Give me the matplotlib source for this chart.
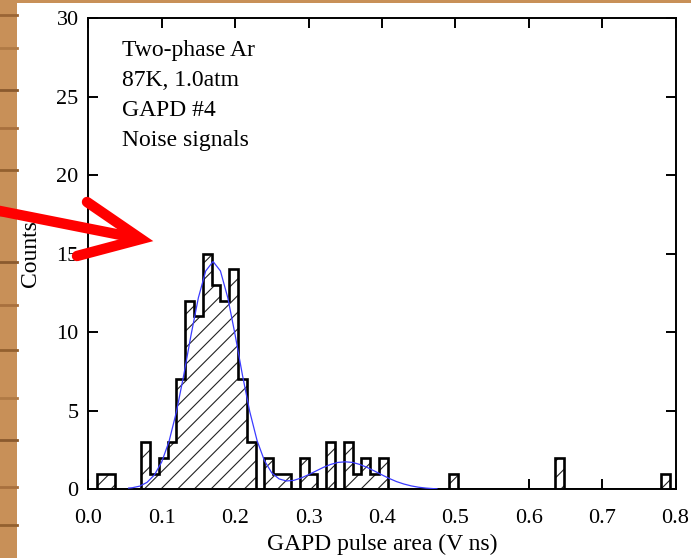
import numpy as np
import matplotlib
matplotlib.use('Agg')
import matplotlib.pyplot as plt
from matplotlib.lines import Line2D
from matplotlib.patches import Rectangle

plt.rcParams['font.family'] = ['Liberation Serif', 'DejaVu Serif']
plt.rcParams['hatch.linewidth'] = 0.8

# histogram of noise pulse areas, bin width 0.012 V ns starting at 0
bin_width = 0.012
counts = [0, 1, 1, 0, 0, 0, 3, 1, 2, 3, 7, 12, 11, 15, 13, 12, 14, 7, 3, 0,
          2, 1, 1, 0, 2, 1, 0, 3, 0, 3, 1, 2, 1, 2, 0, 0, 0, 0, 0, 0,
          0, 1, 0, 0, 0, 0, 0, 0, 0, 0, 0, 0, 0, 2, 0, 0, 0, 0, 0, 0,
          0, 0, 0, 0, 0, 1]

# fitted curve
fit_x = [0.055, 0.06, 0.07, 0.08, 0.09, 0.10, 0.11, 0.12, 0.13, 0.14, 0.15,
         0.16, 0.17, 0.18, 0.19, 0.20, 0.21, 0.22, 0.23, 0.24, 0.25, 0.26,
         0.27, 0.28, 0.29, 0.30, 0.31, 0.32, 0.33, 0.34, 0.35, 0.36, 0.37,
         0.38, 0.39, 0.40, 0.41, 0.42, 0.43, 0.44, 0.45, 0.46, 0.47, 0.475]
fit_y = [0.08, 0.1, 0.2, 0.44, 0.91, 1.74, 3.05, 4.92, 7.26, 9.83, 12.2,
         13.9, 14.5, 13.9, 12.2, 9.84, 7.27, 4.94, 3.09, 1.82, 1.04, 0.66,
         0.53, 0.57, 0.72, 0.93, 1.16, 1.39, 1.58, 1.71, 1.75, 1.71, 1.58,
         1.39, 1.16, 0.92, 0.69, 0.49, 0.335, 0.216, 0.132, 0.077, 0.043, 0.03]

x_ticks = [0.0, 0.1, 0.2, 0.3, 0.4, 0.5, 0.6, 0.7, 0.8]
y_ticks = [0, 5, 10, 15, 20, 25, 30]
info_lines = ['Two-phase Ar', '87K, 1.0atm', 'GAPD #4', 'Noise signals']

W, H = 691, 558
fig = plt.figure(figsize=(W / 100, H / 100), dpi=100, facecolor='white')

# wood strip on the left and top edges
fig.add_artist(Rectangle((0, 0), 17 / W, 1, transform=fig.transFigure,
                         facecolor='#c89058', edgecolor='none', zorder=0))
fig.add_artist(Rectangle((0, 1 - 3 / H), 1, 3 / H, transform=fig.transFigure,
                         facecolor='#c89058', edgecolor='none', zorder=0))
wood_streaks = [(15, '#9a6535'), (48, '#b07a45'), (90, '#8a5a2e'),
                (128, '#a8703e'), (170, '#93602f'), (215, '#b07a45'),
                (262, '#8a5a2e'), (305, '#a8703e'), (350, '#93602f'),
                (398, '#b07a45'), (440, '#8a5a2e'), (487, '#a8703e'),
                (525, '#93602f')]
for yy, c in wood_streaks:
    fig.add_artist(Line2D([0, 17 / W], [1 - yy / H, 1 - yy / H],
                          transform=fig.transFigure, color=c,
                          lw=2.0, zorder=0))

ax = fig.add_axes([88.3 / W, 1 - 489.3 / H, 587.2 / W, 471.3 / H])

edges = np.arange(len(counts) + 1) * bin_width
ax.stairs(counts, edges, fill=True, hatch='//', facecolor='white',
          edgecolor='#222222', linewidth=0, zorder=2)
ax.stairs(counts, edges, color='black', linewidth=1.9, baseline=0, zorder=3)
ax.plot(fit_x, fit_y, color='#3b3bff', linewidth=0.9, zorder=4)

ax.set_xlim(0, 0.8)
ax.set_ylim(0, 30)
ax.set_xticks(x_ticks)
ax.set_xticklabels(['%.1f' % v for v in x_ticks])
ax.set_yticks(y_ticks)
ax.tick_params(direction='in', length=7.5, width=1.4, labelsize=16,
               top=True, right=True)
ax.tick_params(axis='x', pad=14)
ax.tick_params(axis='y', pad=7)
for s in ax.spines.values():
    s.set_linewidth(1.4)

ax.set_xlabel('GAPD pulse area (V ns)', fontsize=17)
ax.set_ylabel('Counts', fontsize=17)
ax.xaxis.set_label_coords(0.5, -0.094)
ax.yaxis.set_label_coords(-0.081, 0.5)

for i, t in enumerate(info_lines):
    ax.text(0.057, 0.92 - i * 0.0637, t, transform=ax.transAxes,
            fontsize=17, va='baseline', ha='left')

# red arrow pointing at the histogram
def fx(px):
    return px / W

def fy(py):
    return 1 - py / H

fig.add_artist(Line2D([fx(-5), fx(136)], [fy(210), fy(238)],
                      transform=fig.transFigure, color='red', lw=7.5,
                      solid_capstyle='butt', zorder=10))
fig.add_artist(Line2D([fx(87), fx(141), fx(77)], [fy(202), fy(239), fy(256)],
                      transform=fig.transFigure, color='red', lw=7.5,
                      solid_capstyle='round', solid_joinstyle='miter',
                      zorder=10))

fig.savefig('out.png', dpi=100, facecolor='white')
